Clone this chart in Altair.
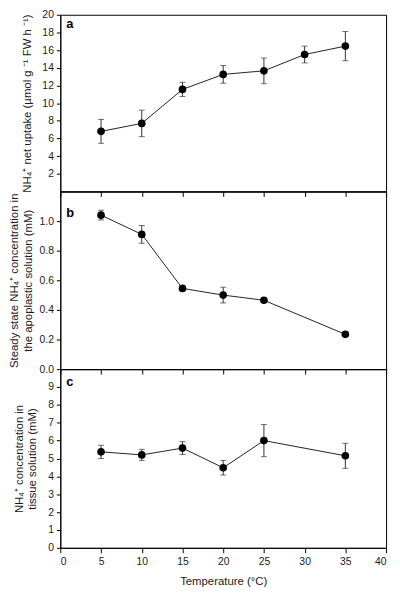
import altair as alt
import pandas as pd

# Panel a: NH4+ net uptake
temp_a = [5, 10, 15, 20, 25, 30, 35]
uptake = [6.8, 7.7, 11.55, 13.25, 13.65, 15.5, 16.45]
uptake_err = [1.35, 1.5, 0.8, 1.0, 1.45, 0.95, 1.65]

# Panel b: apoplastic concentration
temp_b = [5, 10, 15, 20, 25, 35]
apo = [1.04, 0.91, 0.545, 0.50, 0.465, 0.235]
apo_err = [0.033, 0.06, 0.015, 0.053, 0.015, 0.015]

# Panel c: tissue concentration
temp_c = [5, 10, 15, 20, 25, 35]
tissue = [5.37, 5.20, 5.58, 4.48, 6.00, 5.15]
tissue_err = [0.37, 0.31, 0.36, 0.41, 0.90, 0.70]

x_ticks = [0, 5, 10, 15, 20, 25, 30, 35, 40]
FONT = "Liberation Sans"


def panel(temps, vals, errs, ytitle, ydomain, yvalues, yfmt, letter, letter_y, height, show_x, tpad):
    df = pd.DataFrame({
        "T": temps,
        "V": vals,
        "lo": [v - e for v, e in zip(vals, errs)],
        "hi": [v + e for v, e in zip(vals, errs)],
    })
    xaxis = alt.Axis(values=x_ticks, labels=show_x, tickSize=5, labelOverlap=False,
                     title="Temperature (°C)" if show_x else None,
                     titlePadding=9, labelPadding=4)
    yaxis = alt.Axis(values=yvalues, format=yfmt, title=ytitle, tickSize=4,
                     labelOverlap=False, labelPadding=3, titlePadding=tpad)
    xs = alt.Scale(domain=[0, 40], nice=False)
    ys = alt.Scale(domain=ydomain, nice=False)
    x = alt.X("T:Q", scale=xs, axis=xaxis)

    def Y(f):
        return alt.Y(f, scale=ys, axis=yaxis)

    base = alt.Chart(df)
    line = base.mark_line(color="#222222", strokeWidth=1).encode(x=x, y=Y("V:Q"))
    rule = base.mark_rule(color="#333333", strokeWidth=1).encode(
        x=x, y=Y("lo:Q"), y2="hi:Q")
    cap_lo = base.mark_tick(color="#333333", thickness=1, size=6, orient="horizontal").encode(
        x=x, y=Y("lo:Q"))
    cap_hi = base.mark_tick(color="#333333", thickness=1, size=6, orient="horizontal").encode(
        x=x, y=Y("hi:Q"))
    pts = base.mark_point(filled=True, color="black", size=60, opacity=1).encode(x=x, y=Y("V:Q"))
    lab = alt.Chart(pd.DataFrame({"t": [letter]})).mark_text(
        fontWeight="bold", fontSize=13, align="left", baseline="middle", font=FONT,
        color="black").encode(text="t:N", x=alt.value(6), y=alt.value(letter_y))
    return alt.layer(line, rule, cap_lo, cap_hi, pts, lab).properties(width=330, height=height)


pa = panel(temp_a, uptake, uptake_err,
           "NH₄⁺ net uptake (µmol g ⁻¹ FW h ⁻¹)",
           [0, 20], [2, 4, 6, 8, 10, 12, 14, 16, 18, 20], "d", "a", 9, 179, False, 10)
pb = panel(temp_b, apo, apo_err,
           ["Steady state NH₄⁺ concentration in", "the apoplastic solution (mM)"],
           [0, 1.2], [0.0, 0.2, 0.4, 0.6, 0.8, 1.0], ".1f", "b", 22, 180, False, 6)
pc = panel(temp_c, tissue, tissue_err,
           ["NH₄⁺ concentration in", "tissue solution (mM)"],
           [0, 10], [0, 1, 2, 3, 4, 5, 6, 7, 8, 9], "d", "c", 13, 181, True, 10)

chart = alt.vconcat(pa, pb, pc, spacing=0, bounds="flush").properties(
    padding={"left": 0, "top": -3, "right": 5, "bottom": 5}
).configure_view(stroke="black", strokeWidth=1).configure_axis(
    grid=False, domainColor="black", tickColor="black", labelColor="#1a1a1a",
    titleColor="#1a1a1a", labelFont=FONT, titleFont=FONT, labelFontSize=10.5,
    titleFontSize=11.5, titleFontWeight="normal", domainWidth=1, tickWidth=1,
    labelOverlap=False
)

chart.save("out.html", embed_options={"renderer": "svg", "actions": False})
